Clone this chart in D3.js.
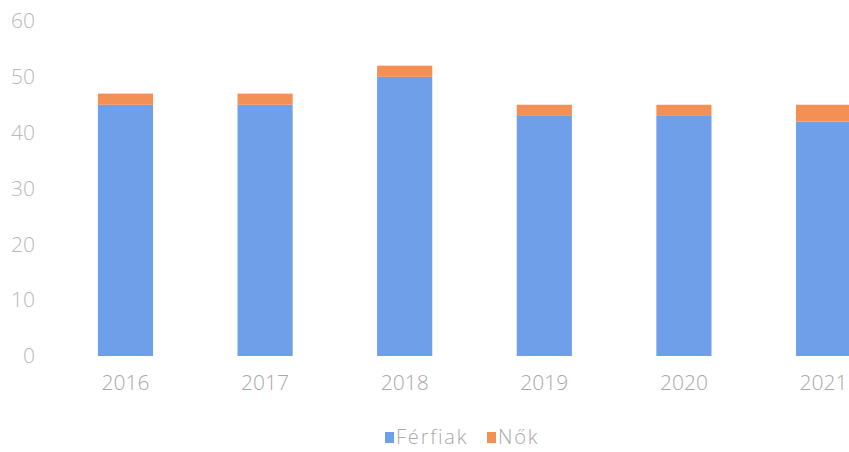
<!DOCTYPE html>
<html><head><meta charset="utf-8">
<script src="https://cdn.jsdelivr.net/npm/d3@7"></script>
<style>body{margin:0;background:#fff;} text{font-family:"Open Sans",sans-serif;font-weight:300;}</style>
</head><body><svg id="c" width="849" height="452"></svg>
<script>
const years = ["2016","2017","2018","2019","2020","2021"];
const ferfiak = [45, 45, 50, 43, 43, 42];
const nok = [2, 2, 2, 2, 2, 3];
const yTicks = [0,10,20,30,40,50,60];
const seriesNames = ["Férfiak","Nők"];
const colors = ["#6f9fe9","#f48f56"];

const svg = d3.select("#c");
const x = d3.scaleBand().domain(years).range([56, 893]).paddingInner(0.605).paddingOuter(0.3);
const y = d3.scaleLinear().domain([0,60]).range([356, 21]);

const data = years.map((yr,i)=>({year:yr, "Férfiak":ferfiak[i], "Nők":nok[i]}));
const stacked = d3.stack().keys(seriesNames)(data);

svg.append("g").selectAll("g").data(stacked).join("g")
  .attr("fill",(d,i)=>colors[i])
  .selectAll("rect").data(d=>d).join("rect")
  .attr("x",d=>x(d.data.year)).attr("width",x.bandwidth())
  .attr("y",d=>y(d[1])).attr("height",d=>y(d[0])-y(d[1]));

const yAxis = svg.append("g").attr("transform","translate(35,0)")
  .call(d3.axisLeft(y).tickValues(yTicks).tickSize(0).tickPadding(0));
yAxis.select(".domain").remove();
yAxis.selectAll("text").attr("fill","#b8b8b8").style("font-size","21px").attr("text-anchor","end").attr("x",0);

const xAxis = svg.append("g").attr("transform","translate(0,374)")
  .call(d3.axisBottom(x).tickSize(0).tickPadding(0));
xAxis.select(".domain").remove();
xAxis.selectAll("text").attr("fill","#a8a8a8").style("font-size","21px").attr("dy","0.75em");

const leg = svg.append("g");
const items = [{n:"Férfiak",c:colors[0],x:385},{n:"Nők",c:colors[1],x:487}];
items.forEach(it=>{
  leg.append("rect").attr("x",it.x).attr("y",432).attr("width",9).attr("height",11).attr("fill",it.c);
  leg.append("text").attr("x",it.x+11).attr("y",444).text(it.n).attr("fill","#a8a8a8")
    .style("font-size","20px").style("letter-spacing","1.8px");
});
</script></body></html>
